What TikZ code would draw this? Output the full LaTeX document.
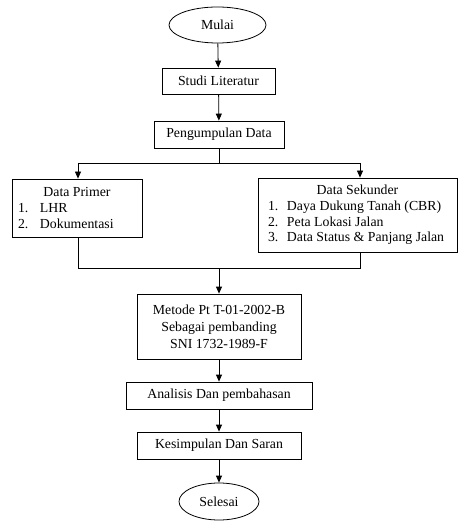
\documentclass[tikz,border=0pt]{standalone}
\usepackage{fontspec}
\setmainfont{Liberation Serif}
\usetikzlibrary{shapes.geometric,arrows.meta}
\begin{document}
\begin{tikzpicture}[x=1pt,y=-1pt,
  every node/.style={font=\fontsize{13.8}{15.7}\selectfont},
  box/.style={draw, line width=0.8pt, inner sep=0pt, align=center},
  oval/.style={draw, ellipse, line width=0.8pt, inner sep=0pt},
  conn/.style={line width=0.8pt},
  arr/.style={line width=0.8pt, -{Triangle[length=7pt,width=6pt]}}]
\useasboundingbox (0,0) rectangle (474,526);
\node[oval, minimum width=97pt, minimum height=36pt] (mulai) at (217.5,25) {Mulai};
\node[box, minimum width=113pt, minimum height=26pt] (studi) at (218.5,81) {Studi Literatur};
\node[box, minimum width=130pt, minimum height=27pt] (kumpul) at (219,134.5) {Pengumpulan Data};
\node[box, minimum width=130pt, minimum height=58pt, align=left] (primer) at (77,208)
  {\makebox[118pt][c]{Data Primer}\\
   \makebox[118pt][l]{\makebox[22pt][l]{1.}LHR}\\
   \makebox[118pt][l]{\makebox[22pt][l]{2.}Dokumentasi}};
\node[box, minimum width=199pt, minimum height=74pt, align=left] (sekunder) at (357.5,215)
  {\makebox[179pt][c]{Data Sekunder}\\
   \makebox[179pt][l]{\makebox[19pt][l]{1.}Daya Dukung Tanah (CBR)}\\
   \makebox[179pt][l]{\makebox[19pt][l]{2.}Peta Lokasi Jalan}\\
   \makebox[179pt][l]{\makebox[19pt][l]{3.}Data Status \& Panjang Jalan}};
\node[box, minimum width=164pt, minimum height=65pt, font=\fontsize{13.8}{17}\selectfont] (metode) at (219,326.5)
  {Metode Pt T-01-2002-B\\Sebagai pembanding\\SNI 1732-1989-F};
\node[box, minimum width=186pt, minimum height=27pt] (analisis) at (219,395.5) {Analisis Dan pembahasan};
\node[box, minimum width=164pt, minimum height=27pt] (simpul) at (219,445.5) {Kesimpulan Dan Saran};
\node[oval, minimum width=80pt, minimum height=37pt] (selesai) at (219,501.5) {Selesai};

\coordinate (split) at (219,163);
\coordinate (splitL) at (78,163);
\coordinate (splitR) at (360,163);
\coordinate (joinL) at (78,268);
\coordinate (joinR) at (360,268);
\coordinate (join) at (219,268);

\draw[arr] (mulai) -- (studi);
\draw[arr] (studi) -- (kumpul);
\draw[conn] (kumpul.south -| split) -- (split);
\draw[conn] (splitL) -- (splitR);
\draw[arr] (splitL) -- (splitL |- primer.north);
\draw[arr] (splitR) -- (splitR |- sekunder.north);
\draw[conn] (primer.south -| joinL) -- (joinL) -- (joinR) -- (sekunder.south -| joinR);
\draw[arr] (join) -- (join |- metode.north);
\draw[arr] (metode) -- (analisis);
\draw[arr] (analisis) -- (simpul);
\draw[arr] (simpul) -- (selesai);
\end{tikzpicture}
\end{document}
